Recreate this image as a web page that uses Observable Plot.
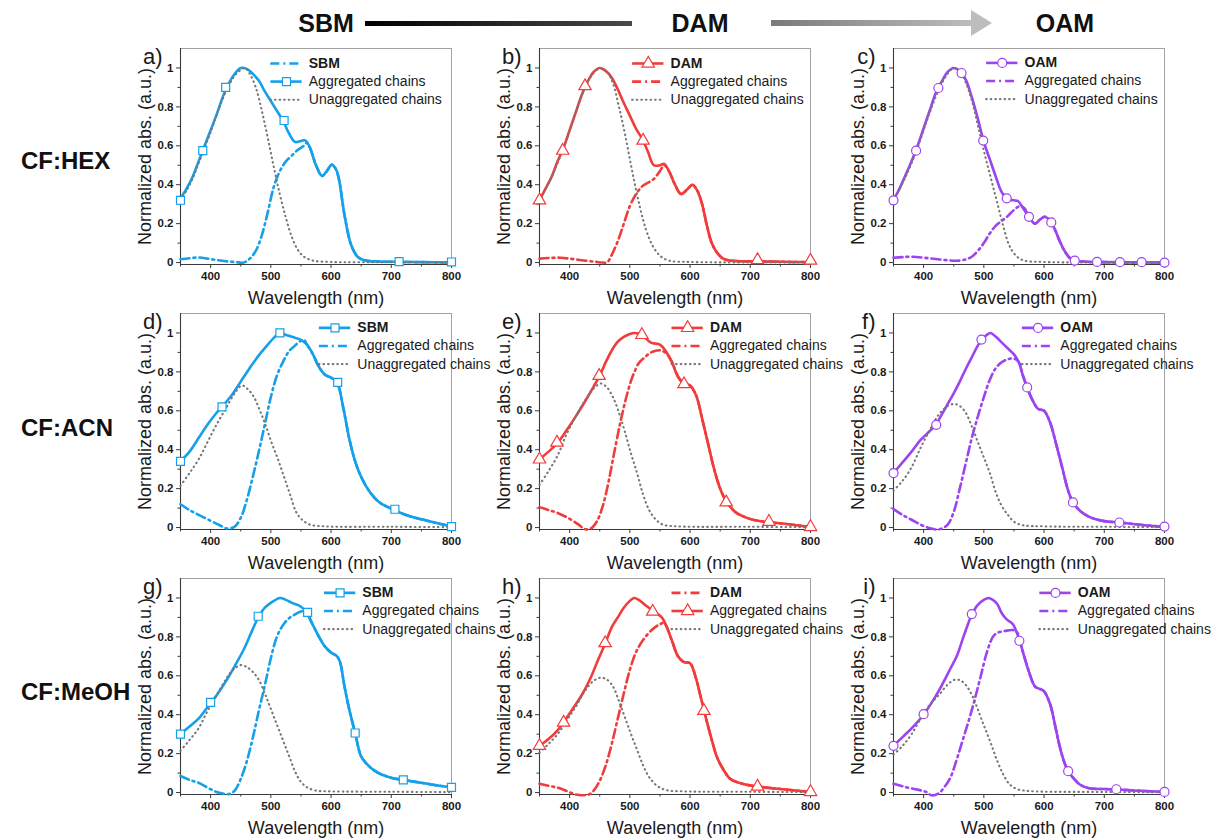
<!DOCTYPE html>
<html><head><meta charset="utf-8">
<script src="https://cdn.jsdelivr.net/npm/d3@7"></script>
<script src="https://cdn.jsdelivr.net/npm/@observablehq/plot@0.6"></script>
<style>
body{margin:0;background:#fff;}
#root{position:relative;width:1212px;height:839px;overflow:hidden;font-family:"Liberation Sans",Arial,sans-serif;}
.panel{position:absolute;width:357px;}
.rowlab{position:absolute;font-weight:bold;font-size:24px;color:#111;white-space:nowrap;transform:translateY(-50%);}
</style></head><body><div id="root"></div><script>
// ---------- axes / ticks ----------
const xDomain = [350, 800];
const yDomain = [-0.01, 1.1];
const xMajor = [400, 500, 600, 700, 800];
const xMinor = [350, 450, 550, 650, 750];
const yMajor = [0, 0.2, 0.4, 0.6, 0.8, 1];
const yTickLabels = ["0", "0.2", "0.4", "0.6", "0.8", "1"];
const yMinor = [0.1, 0.3, 0.5, 0.7, 0.9];
const rowNames = ["CF:HEX", "CF:ACN", "CF:MeOH"];
const materials = ["SBM", "DAM", "OAM"];
const panelLetters = ["a)", "b)", "c)", "d)", "e)", "f)", "g)", "h)", "i)"];

// ---------- data: [wavelength nm, normalized abs] ----------
// CF:HEX
const hexSBM = [[350,0.33],[360,0.38],[370,0.44],[380,0.52],[390,0.60],[400,0.68],[410,0.76],[420,0.85],[430,0.92],[440,0.97],[450,1.0],[460,0.995],[470,0.97],[480,0.935],[490,0.88],[500,0.83],[510,0.78],[520,0.73],[530,0.665],[540,0.62],[550,0.625],[557,0.628],[565,0.59],[575,0.50],[585,0.445],[593,0.47],[601,0.503],[608,0.48],[613,0.43],[622,0.25],[633,0.094],[644,0.03],[655,0.012],[670,0.006],[700,0.004],[750,0.002],[800,0.0]];
const hexSBMagg = [[350,0.017],[365,0.022],[380,0.026],[395,0.02],[410,0.013],[425,0.007],[440,0.003],[455,0.0],[465,0.02],[475,0.06],[485,0.14],[495,0.26],[505,0.39],[515,0.47],[525,0.52],[535,0.55],[545,0.58],[555,0.60],[560,0.615]];
const hexSBMunagg = [[350,0.32],[360,0.37],[370,0.43],[380,0.51],[390,0.59],[400,0.67],[410,0.76],[420,0.84],[430,0.91],[440,0.96],[450,0.99],[457,1.0],[465,0.97],[475,0.90],[485,0.78],[495,0.64],[505,0.49],[515,0.35],[525,0.23],[535,0.13],[545,0.065],[555,0.03],[570,0.01],[600,0.003],[700,0.002],[800,0.001]];
const hexSBMmarks = [[350,0.32],[387,0.575],[425,0.90],[522,0.73],[713,0.005],[800,0.003]];

const hexDAM = [[350,0.32],[360,0.38],[370,0.44],[380,0.52],[390,0.59],[400,0.68],[410,0.77],[420,0.86],[430,0.93],[440,0.98],[450,1.0],[460,0.985],[470,0.95],[480,0.89],[490,0.82],[500,0.755],[510,0.69],[522,0.627],[530,0.57],[540,0.50],[550,0.50],[557,0.507],[565,0.47],[575,0.40],[585,0.352],[595,0.375],[604,0.40],[612,0.37],[620,0.30],[628,0.19],[636,0.10],[645,0.05],[655,0.02],[670,0.009],[700,0.006],[750,0.004],[800,0.002]];
const hexDAMagg = [[350,0.02],[370,0.024],[385,0.025],[400,0.02],[420,0.012],[440,0.005],[455,0.0],[462,0.0],[470,0.04],[480,0.11],[490,0.20],[500,0.29],[510,0.35],[520,0.39],[530,0.41],[540,0.43],[550,0.47],[557,0.50],[565,0.47]];
const hexDAMunagg = [[350,0.32],[370,0.44],[390,0.59],[410,0.77],[430,0.93],[445,0.99],[452,1.0],[462,0.98],[472,0.92],[482,0.80],[492,0.66],[502,0.50],[512,0.35],[522,0.22],[532,0.125],[542,0.065],[552,0.03],[565,0.01],[600,0.003],[800,0.001]];
const hexDAMmarks = [[350,0.32],[388.6,0.575],[425.6,0.907],[522,0.627],[712,0.013],[800,0.01]];

const hexOAM = [[350,0.32],[360,0.38],[370,0.45],[380,0.52],[390,0.60],[400,0.69],[410,0.78],[420,0.87],[430,0.93],[440,0.98],[450,1.0],[460,0.985],[470,0.94],[480,0.85],[490,0.74],[500,0.62],[510,0.53],[520,0.44],[530,0.36],[540,0.325],[550,0.32],[557,0.315],[565,0.28],[575,0.235],[585,0.20],[593,0.22],[601,0.235],[610,0.215],[618,0.17],[626,0.11],[634,0.06],[642,0.026],[650,0.01],[670,0.004],[700,0.002],[800,0.0]];
const hexOAMagg = [[350,0.025],[365,0.028],[380,0.03],[400,0.025],[420,0.018],[440,0.012],[455,0.009],[470,0.016],[480,0.03],[490,0.06],[500,0.10],[510,0.15],[520,0.19],[530,0.215],[540,0.24],[550,0.27],[560,0.29],[567,0.28]];
const hexOAMunagg = [[350,0.32],[370,0.44],[390,0.59],[410,0.77],[430,0.92],[445,0.99],[452,1.0],[462,0.975],[472,0.91],[482,0.81],[492,0.68],[502,0.55],[512,0.43],[522,0.31],[532,0.19],[542,0.09],[552,0.04],[565,0.012],[600,0.003],[800,0.001]];
const hexOAMmarks = [[350,0.32],[387.5,0.575],[424.5,0.897],[463,0.974],[499,0.627],[538,0.33],[575,0.235],[612,0.206],[651,0.01],[688,0.003],[726,0.002],[762,0.002],[800,0.0]];

// CF:ACN
const acnSBM = [[350,0.34],[365,0.39],[380,0.46],[395,0.53],[410,0.59],[420,0.625],[435,0.68],[450,0.75],[465,0.82],[480,0.885],[495,0.94],[505,0.975],[515,1.0],[525,0.99],[535,0.98],[550,0.965],[560,0.94],[570,0.89],[580,0.825],[590,0.785],[600,0.77],[610,0.745],[620,0.62],[630,0.46],[640,0.34],[650,0.26],[665,0.18],[680,0.13],[700,0.097],[720,0.07],[740,0.05],[760,0.035],[780,0.02],[800,0.005]];
const acnSBMagg = [[350,0.12],[365,0.09],[380,0.065],[400,0.035],[415,0.012],[428,-0.005],[440,0.005],[450,0.05],[460,0.14],[470,0.26],[480,0.39],[490,0.53],[500,0.67],[510,0.78],[520,0.85],[530,0.905],[540,0.935],[550,0.96],[555,0.965]];
const acnSBMunagg = [[350,0.215],[365,0.28],[380,0.35],[395,0.44],[410,0.53],[425,0.61],[440,0.69],[452,0.73],[462,0.71],[472,0.67],[482,0.60],[492,0.52],[502,0.43],[512,0.35],[522,0.26],[532,0.17],[542,0.08],[552,0.04],[565,0.015],[590,0.006],[700,0.004],[800,0.002]];
const acnSBMmarks = [[350,0.34],[419,0.62],[515,1.0],[611,0.746],[706,0.094],[800,0.005]];

const acnDAM = [[350,0.35],[365,0.39],[380,0.435],[395,0.50],[410,0.57],[425,0.645],[440,0.725],[450,0.78],[460,0.85],[470,0.91],[480,0.955],[490,0.98],[500,0.995],[508,1.0],[520,0.99],[535,0.95],[550,0.94],[560,0.905],[570,0.85],[580,0.775],[590,0.74],[600,0.73],[610,0.68],[620,0.56],[630,0.43],[640,0.30],[650,0.20],[660,0.135],[675,0.08],[690,0.055],[710,0.036],[730,0.028],[760,0.018],[800,0.003]];
const acnDAMagg = [[350,0.105],[365,0.09],[380,0.075],[400,0.045],[415,0.015],[425,-0.008],[435,-0.005],[445,0.03],[455,0.11],[465,0.24],[475,0.40],[485,0.55],[495,0.68],[505,0.78],[515,0.845],[525,0.875],[535,0.90],[545,0.91],[553,0.91],[562,0.89]];
const acnDAMunagg = [[350,0.22],[365,0.29],[380,0.37],[395,0.48],[410,0.57],[425,0.65],[440,0.715],[452,0.74],[462,0.72],[472,0.67],[482,0.59],[492,0.49],[502,0.38],[512,0.28],[522,0.17],[532,0.09],[542,0.045],[555,0.015],[580,0.006],[700,0.004],[800,0.002]];
const acnDAMmarks = [[350,0.35],[379,0.437],[449,0.78],[520,0.99],[590,0.737],[660,0.13],[731,0.03],[800,0.003]];

const acnOAM = [[350,0.28],[365,0.335],[380,0.39],[395,0.45],[410,0.495],[420,0.527],[430,0.58],[440,0.635],[450,0.69],[460,0.75],[470,0.815],[480,0.875],[490,0.935],[497,0.965],[505,0.99],[511,1.0],[520,0.98],[530,0.95],[540,0.92],[550,0.89],[558,0.85],[565,0.78],[572,0.72],[580,0.66],[590,0.61],[600,0.60],[610,0.54],[620,0.43],[630,0.31],[640,0.19],[648,0.13],[660,0.085],[675,0.055],[700,0.033],[725,0.026],[760,0.014],[800,0.003]];
const acnOAMagg = [[350,0.095],[365,0.065],[380,0.04],[395,0.015],[410,-0.003],[420,-0.01],[430,-0.005],[440,0.015],[450,0.08],[460,0.20],[470,0.33],[480,0.46],[490,0.57],[500,0.67],[510,0.76],[520,0.82],[530,0.85],[540,0.865],[550,0.868],[558,0.85]];
const acnOAMunagg = [[350,0.19],[365,0.24],[380,0.31],[395,0.41],[410,0.50],[425,0.58],[440,0.625],[450,0.635],[460,0.625],[470,0.59],[480,0.52],[490,0.44],[500,0.36],[510,0.28],[520,0.18],[530,0.11],[540,0.065],[550,0.03],[565,0.012],[600,0.006],[700,0.004],[800,0.002]];
const acnOAMmarks = [[350,0.28],[421,0.528],[496,0.966],[572,0.72],[648,0.129],[725,0.026],[800,0.005]];

// CF:MeOH
const meohSBM = [[350,0.30],[365,0.34],[380,0.38],[395,0.44],[410,0.50],[425,0.57],[440,0.65],[455,0.735],[470,0.84],[480,0.905],[490,0.95],[500,0.975],[515,1.0],[525,0.99],[535,0.975],[550,0.955],[560,0.925],[570,0.86],[580,0.80],[590,0.75],[600,0.72],[610,0.70],[615,0.67],[622,0.55],[630,0.43],[640,0.306],[650,0.185],[660,0.145],[672,0.113],[686,0.09],[701,0.075],[720,0.065],[740,0.055],[760,0.045],[780,0.035],[800,0.027]];
const meohSBMagg = [[350,0.085],[365,0.065],[380,0.05],[395,0.025],[410,0.003],[420,-0.005],[430,-0.008],[440,0.01],[450,0.07],[460,0.16],[470,0.28],[480,0.42],[490,0.55],[500,0.69],[510,0.80],[520,0.86],[530,0.895],[540,0.915],[550,0.93],[558,0.93],[565,0.89]];
const meohSBMunagg = [[350,0.215],[365,0.27],[380,0.33],[395,0.42],[410,0.50],[425,0.58],[437,0.63],[450,0.655],[460,0.645],[470,0.62],[480,0.58],[490,0.51],[500,0.43],[510,0.35],[520,0.27],[530,0.19],[540,0.11],[550,0.055],[560,0.027],[575,0.01],[600,0.006],[700,0.004],[800,0.002]];
const meohSBMmarks = [[350,0.30],[400,0.463],[479,0.906],[561,0.926],[640,0.306],[720,0.065],[800,0.027]];

const meohDAM = [[350,0.24],[365,0.275],[380,0.32],[390,0.36],[405,0.43],[420,0.50],[435,0.59],[447,0.68],[459,0.765],[470,0.85],[480,0.90],[490,0.95],[500,0.985],[507,1.0],[515,0.99],[525,0.965],[538,0.935],[553,0.90],[560,0.86],[570,0.78],[580,0.70],[590,0.67],[600,0.665],[610,0.585],[617,0.50],[623,0.425],[630,0.34],[637,0.26],[645,0.18],[655,0.12],[667,0.07],[690,0.043],[712,0.031],[750,0.018],[800,0.003]];
const meohDAMagg = [[350,0.045],[365,0.035],[380,0.025],[395,0.008],[410,-0.01],[420,-0.014],[432,-0.01],[440,0.01],[450,0.06],[460,0.14],[470,0.25],[480,0.38],[490,0.51],[500,0.63],[510,0.72],[520,0.775],[530,0.815],[540,0.845],[550,0.865],[556,0.872],[560,0.86]];
const meohDAMunagg = [[350,0.205],[365,0.25],[380,0.30],[395,0.37],[410,0.44],[425,0.52],[440,0.575],[452,0.59],[462,0.58],[472,0.545],[482,0.47],[492,0.385],[502,0.30],[512,0.22],[522,0.14],[532,0.08],[545,0.035],[560,0.013],[590,0.006],[700,0.004],[800,0.002]];
const meohDAMmarks = [[350,0.24],[390,0.36],[459,0.768],[538,0.93],[623,0.42],[712,0.031],[800,0.003]];

const meohOAM = [[350,0.24],[365,0.285],[380,0.33],[400,0.40],[415,0.47],[430,0.55],[445,0.64],[455,0.70],[465,0.79],[473,0.86],[480,0.915],[490,0.965],[500,0.99],[508,1.0],[515,0.99],[522,0.97],[530,0.92],[538,0.89],[548,0.866],[555,0.82],[560,0.775],[567,0.70],[575,0.62],[585,0.545],[595,0.53],[600,0.52],[610,0.455],[618,0.35],[625,0.25],[632,0.17],[640,0.11],[650,0.07],[660,0.04],[675,0.022],[700,0.018],[720,0.016],[760,0.009],[800,0.003]];
const meohOAMagg = [[350,0.045],[370,0.028],[390,0.015],[405,0.002],[413,-0.014],[425,-0.004],[435,0.03],[445,0.08],[455,0.17],[465,0.27],[475,0.37],[485,0.48],[495,0.60],[505,0.72],[515,0.80],[522,0.82],[535,0.83],[548,0.835],[556,0.82],[560,0.775]];
const meohOAMunagg = [[350,0.195],[365,0.24],[380,0.30],[395,0.38],[410,0.45],[425,0.50],[440,0.555],[452,0.58],[462,0.575],[472,0.545],[482,0.49],[492,0.41],[502,0.33],[512,0.25],[522,0.165],[532,0.095],[542,0.045],[555,0.018],[575,0.008],[700,0.003],[800,0.002]];
const meohOAMmarks = [[350,0.24],[400,0.403],[480,0.917],[559,0.78],[640,0.11],[720,0.017],[800,0.003]];

// legend entry texts
const aggLabel = "Aggregated chains";
const unaggLabel = "Unaggregated chains";

// ---------- styling / layout ----------
const FONT = '"Liberation Sans", Arial, sans-serif';
const colors = {SBM: "#14A0EA", DAM: "#F23B3B", OAM: "#9C44EF"};
const symbols = {SBM: "square", DAM: "triangle", OAM: "circle"};
const symbolR = {SBM: 4.5, DAM: 4.6, OAM: 4.5};
const gray = "#777777";
const colLeft = [130, 488.5, 843.3];
const rowTop = [33.2, 297.8, 562.8];
// legend anchor per panel: [line start nm, top row y]
const legendPos = [[500,1.023],[504.6,1.023],[504.6,1.026],[580.6,1.026],[570,1.026],[564,1.026],[589,1.026],[570,1.026],[593,1.026]];

const panels = [
  {mat:"SBM", total:hexSBM, agg:hexSBMagg, unagg:hexSBMunagg, marks:hexSBMmarks, order:["dashdot","marker","dotted"]},
  {mat:"DAM", total:hexDAM, agg:hexDAMagg, unagg:hexDAMunagg, marks:hexDAMmarks, order:["marker","dashdot","dotted"]},
  {mat:"OAM", total:hexOAM, agg:hexOAMagg, unagg:hexOAMunagg, marks:hexOAMmarks, order:["marker","dashdot","dotted"]},
  {mat:"SBM", total:acnSBM, agg:acnSBMagg, unagg:acnSBMunagg, marks:acnSBMmarks, order:["marker","dashdot","dotted"]},
  {mat:"DAM", total:acnDAM, agg:acnDAMagg, unagg:acnDAMunagg, marks:acnDAMmarks, order:["marker","dashdot","dotted"]},
  {mat:"OAM", total:acnOAM, agg:acnOAMagg, unagg:acnOAMunagg, marks:acnOAMmarks, order:["marker","dashdot","dotted"]},
  {mat:"SBM", total:meohSBM, agg:meohSBMagg, unagg:meohSBMunagg, marks:meohSBMmarks, order:["marker","dashdot","dotted"]},
  {mat:"DAM", total:meohDAM, agg:meohDAMagg, unagg:meohDAMunagg, marks:meohDAMmarks, order:["dashdot","marker","dotted"]},
  {mat:"OAM", total:meohOAM, agg:meohOAMagg, unagg:meohOAMunagg, marks:meohOAMmarks, order:["marker","dashdot","dotted"]}
];

const X = d => d[0], Y = d => d[1];
const DASHDOT = "9,4,2,4";
const DOTTED = "0.6,4";

function makePanel(p, idx) {
  const color = colors[p.mat];
  const lastAgg = p.agg[p.agg.length - 1][0];
  const agg = p.agg.concat(p.total.filter(d => d[0] > lastAgg));
  const [lx, ly] = legendPos[idx];
  const rowLabels = [p.mat, aggLabel, unaggLabel];
  const rows = p.order.map((style, i) => ({style, label: rowLabels[i], bold: i === 0, ly: ly - i * 0.093}));
  const L = 52;
  const ruleFor = (style, opts) => Plot.ruleY(rows.filter(r => r.style === style), {y: "ly", x1: () => lx, x2: () => lx + L, ...opts});
  return Plot.plot({
    width: 357, height: 275,
    marginLeft: 50, marginRight: 36, marginTop: 15, marginBottom: 44,
    x: {domain: xDomain},
    y: {domain: yDomain},
    style: {background: "transparent", overflow: "visible", fontFamily: FONT, color: "#1a1a1a"},
    marks: [
      Plot.frame({stroke: "#a3a3a3", strokeWidth: 1}),
      Plot.ruleX([xDomain[0]], {stroke: "#3a3a3a", strokeWidth: 1.1}),
      Plot.ruleY([yDomain[0]], {stroke: "#3a3a3a", strokeWidth: 1.1}),
      Plot.axisX({ticks: xMajor, tickSize: 4, tickPadding: 3, fontSize: 11.5, fontWeight: "bold", label: null, stroke: "#3a3a3a"}),
      Plot.axisX({ticks: xMinor, tickSize: 2.5, tickFormat: () => "", label: null, stroke: "#3a3a3a"}),
      Plot.axisY({ticks: yMajor, tickSize: 4, tickPadding: 3, fontSize: 11.5, fontWeight: "bold", label: null, stroke: "#3a3a3a",
        tickFormat: d => yTickLabels[yMajor.indexOf(d)]}),
      Plot.axisY({ticks: yMinor, tickSize: 2.5, tickFormat: () => "", label: null, stroke: "#3a3a3a"}),
      Plot.line(p.total, {x: X, y: Y, stroke: color, strokeWidth: 2.6, curve: "catmull-rom"}),
      Plot.line(agg, {x: X, y: Y, stroke: color, strokeWidth: 2.6, strokeDasharray: DASHDOT, curve: "catmull-rom"}),
      Plot.line(p.unagg, {x: X, y: Y, stroke: gray, strokeWidth: 2.1, strokeDasharray: DOTTED, strokeLinecap: "round", curve: "catmull-rom"}),
      Plot.dot(p.marks, {x: X, y: Y, symbol: symbols[p.mat], r: symbolR[p.mat], stroke: color, fill: "white", strokeWidth: 1.2}),
      // legend
      ruleFor("marker", {stroke: color, strokeWidth: 2.6}),
      ruleFor("dashdot", {stroke: color, strokeWidth: 2.6, strokeDasharray: DASHDOT}),
      ruleFor("dotted", {stroke: gray, strokeWidth: 2.1, strokeDasharray: DOTTED, strokeLinecap: "round"}),
      Plot.dot(rows.filter(r => r.style === "marker"), {x: () => lx + L / 2, y: "ly", symbol: symbols[p.mat], r: symbolR[p.mat], stroke: color, fill: "white", strokeWidth: 1.2}),
      Plot.text(rows.filter(r => r.bold), {x: () => lx + L + 11, y: "ly", text: "label", textAnchor: "start", fontSize: 14, fontWeight: "bold"}),
      Plot.text(rows.filter(r => !r.bold), {x: () => lx + L + 11, y: "ly", text: "label", textAnchor: "start", fontSize: 14}),
      // axis titles and panel letter
      Plot.text(["Wavelength (nm)"], {frameAnchor: "bottom", dy: 34, lineAnchor: "middle", textAnchor: "middle", fontSize: 18}),
      Plot.text(["Normalized abs. (a.u.)"], {frameAnchor: "left", dx: -35, rotate: -90, textAnchor: "middle", lineAnchor: "middle", fontSize: 18}),
      Plot.text([panelLetters[idx]], {frameAnchor: "top-left", dx: -18, dy: 8, textAnchor: "end", lineAnchor: "middle", fontSize: 22})
    ]
  });
}

const root = document.getElementById("root");

// header
const header = `
<svg width="1212" height="46" style="position:absolute;left:0;top:0" font-family='${FONT}'>
  <defs>
    <linearGradient id="g1" x1="0" x2="1"><stop offset="0" stop-color="#000"/><stop offset="1" stop-color="#4a4a4a"/></linearGradient>
    <linearGradient id="g2" x1="0" x2="1"><stop offset="0" stop-color="#7a7a7a"/><stop offset="1" stop-color="#bdbdbd"/></linearGradient>
  </defs>
  <rect x="365" y="21" width="267" height="5" fill="url(#g1)"/>
  <rect x="771" y="20" width="202" height="6" fill="url(#g2)"/>
  <path d="M971,10 L992,23 L971,36 Z" fill="#bdbdbd"/>
  <text x="326" y="32" text-anchor="middle" font-weight="bold" font-size="25" fill="#111">${materials[0]}</text>
  <text x="700" y="32" text-anchor="middle" font-weight="bold" font-size="25" fill="#111">${materials[1]}</text>
  <text x="1065" y="32" text-anchor="middle" font-weight="bold" font-size="25" fill="#111">${materials[2]}</text>
</svg>`;
root.insertAdjacentHTML("beforeend", header);

// row labels
const rowLabelY = [161, 428, 692];
rowNames.forEach((n, i) => {
  const d = document.createElement("div");
  d.className = "rowlab";
  d.style.left = "21px";
  d.style.top = rowLabelY[i] + "px";
  d.textContent = n;
  root.appendChild(d);
});

panels.forEach((p, i) => {
  const div = document.createElement("div");
  div.className = "panel";
  div.style.left = colLeft[i % 3] + "px";
  div.style.top = rowTop[Math.floor(i / 3)] + "px";
  div.appendChild(makePanel(p, i));
  root.appendChild(div);
});
</script></body></html>
